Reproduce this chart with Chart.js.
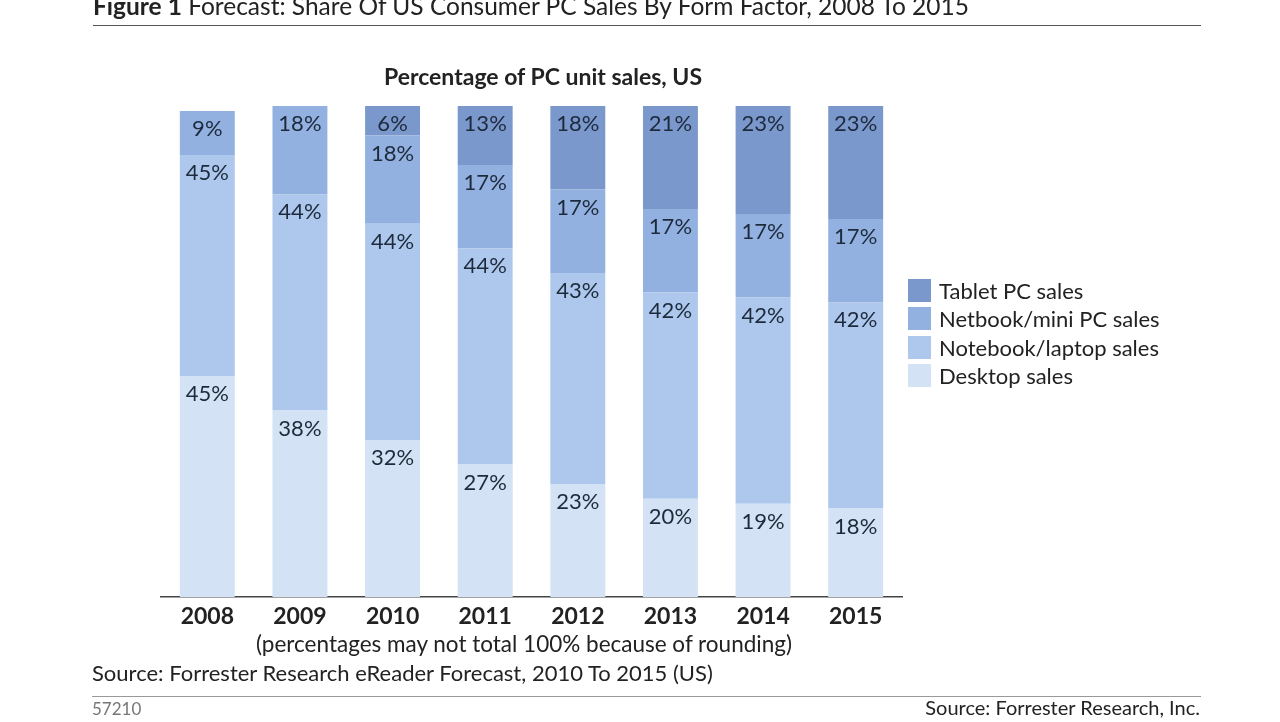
<!DOCTYPE html>
<html>
<head>
<meta charset="utf-8">
<script src="https://cdn.jsdelivr.net/npm/chart.js@4.4.1/dist/chart.umd.min.js"></script>
<style>
  html, body { margin: 0; padding: 0; background: #fff; }
  body { width: 1280px; height: 722px; position: relative; overflow: hidden; font-family: Lato, "Noto Sans", sans-serif; color: #222; }
  #wrap { position: absolute; left: 0; top: 0; width: 1280px; height: 722px; }
  .txt { position: absolute; white-space: nowrap; }
  .rule { position: absolute; height: 0; border-top: 1px solid #666; }
  #legend { position: absolute; left: 908px; top: 276px; }
  #legend .item { display: flex; align-items: center; height: 28.5px; font-size: 22px; color: #222; }
  #legend .sw { width: 23px; height: 23px; margin-right: 8px; }
</style>
</head>
<body>
<div id="wrap"><canvas id="chart"></canvas></div>

<div class="txt" style="left:93px; top:-9px; font-size:24.5px;"><b>Figure 1</b> Forecast: Share Of US Consumer PC Sales By Form Factor, 2008 To 2015</div>
<div class="rule" style="left:93px; top:25px; width:1108px; border-color:#555;"></div>
<div class="txt" style="left:543px; top:62px; font-size:23px; font-weight:bold; transform:translateX(-50%);">Percentage of PC unit sales, US</div>
<div id="legend"></div>
<div class="txt" style="left:524px; top:630px; font-size:22.5px; transform:translateX(-50%);">(percentages may not total 100% because of rounding)</div>
<div class="txt" style="left:92px; top:659px; font-size:22px;">Source: Forrester Research eReader Forecast, 2010 To 2015 (US)</div>
<div class="rule" style="left:92px; top:696px; width:1109px; border-color:#999;"></div>
<div class="txt" style="left:92px; top:698px; font-size:17px; color:#777;">57210</div>
<div class="txt" style="right:80px; top:695px; font-size:20px;">Source: Forrester Research, Inc.</div>

<script>
// categories
const years = ['2008', '2009', '2010', '2011', '2012', '2013', '2014', '2015'];

// series values (percent of US PC unit sales)
const desktop = [45, 38, 32, 27, 23, 20, 19, 18];
const notebook = [45, 44, 44, 44, 43, 42, 42, 42];
const netbook = [9, 18, 18, 17, 17, 17, 17, 17];
const tablet = [0, 0, 6, 13, 18, 21, 23, 23];

const seriesNames = ['Desktop sales', 'Notebook/laptop sales', 'Netbook/mini PC sales', 'Tablet PC sales'];
const seriesColors = ['#d3e2f5', '#adc8ec', '#93b1e0', '#7b98cc'];
const seriesData = [desktop, notebook, netbook, tablet];

// legend, top item is the last stacked series
const legend = document.getElementById('legend');
for (let i = seriesNames.length - 1; i >= 0; i--) {
  const row = document.createElement('div');
  row.className = 'item';
  row.innerHTML = '<span class="sw" style="background:' + seriesColors[i] + '"></span>' + seriesNames[i];
  legend.appendChild(row);
}

// value labels near the top of each segment
const segmentLabels = {
  id: 'segmentLabels',
  afterDatasetsDraw(chart) {
    const ctx = chart.ctx;
    const top = chart.chartArea.top;
    ctx.save();
    ctx.font = '22px Lato, "Noto Sans", sans-serif';
    ctx.fillStyle = '#1d2a3c';
    ctx.textAlign = 'center';
    ctx.textBaseline = 'middle';
    chart.data.datasets.forEach((ds, di) => {
      const meta = chart.getDatasetMeta(di);
      meta.data.forEach((bar, i) => {
        const v = ds.data[i];
        if (!v) return;
        ctx.fillText(v + '%', bar.x, Math.max(bar.y, top) + 18);
      });
    });
    ctx.restore();
  }
};

new Chart(document.getElementById('chart').getContext('2d'), {
  type: 'bar',
  data: {
    labels: years,
    datasets: seriesNames.map((name, i) => ({
      label: name,
      data: seriesData[i],
      backgroundColor: seriesColors[i],
      borderWidth: 0,
      barPercentage: 0.593,
      categoryPercentage: 1,
      clip: 0
    }))
  },
  options: {
    responsive: true,
    maintainAspectRatio: false,
    animation: false,
    layout: { padding: { left: 161, right: 378, top: 106, bottom: 85 } },
    plugins: { legend: { display: false }, tooltip: { enabled: false } },
    scales: {
      x: {
        stacked: true,
        grid: { display: false, drawTicks: false },
        border: { display: true, color: '#444', width: 1.5 },
        ticks: { color: '#222', padding: 6, font: { family: 'Lato', size: 23, weight: 'bold' } },
        afterFit: (s) => { s.height = 40; }
      },
      y: { stacked: true, display: false, min: 0, max: 100 }
    }
  },
  plugins: [segmentLabels]
});
</script>
</body>
</html>
